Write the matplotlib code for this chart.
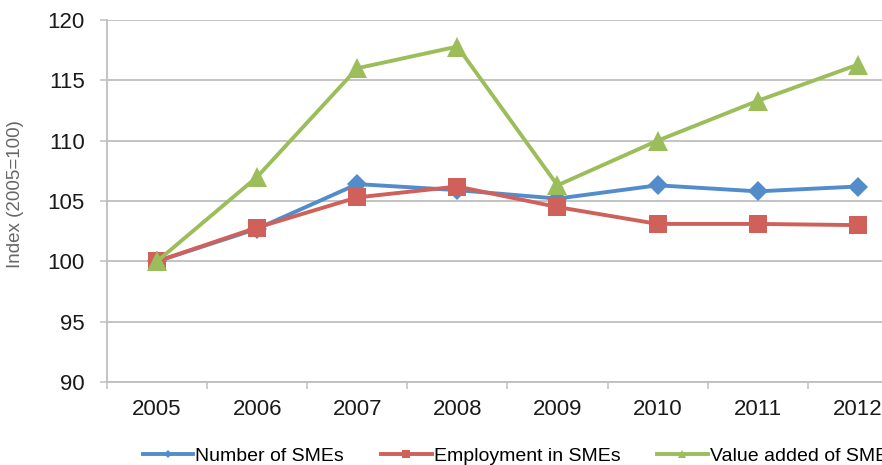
import matplotlib.pyplot as plt
from matplotlib.lines import Line2D

plt.rcParams["font.family"] = ["Liberation Sans", "DejaVu Sans"]

years = ["2005", "2006", "2007", "2008", "2009", "2010", "2011", "2012"]
number_of_smes = [100.0, 102.7, 106.4, 105.9, 105.2, 106.3, 105.8, 106.2]
employment_in_smes = [100.0, 102.8, 105.3, 106.2, 104.5, 103.1, 103.1, 103.0]
value_added_of_smes = [100.0, 107.0, 116.0, 117.8, 106.3, 110.0, 113.3, 116.3]

series = [
    ("Number of SMEs", number_of_smes, "#528CCB", "D", 10.5, 4),
    ("Employment in SMEs", employment_in_smes, "#D0605A", "s", 12.5, 6),
    ("Value added of SMEs", value_added_of_smes, "#9BBE5A", "^", 14, 6),
]

grid_color = "#BEBEBE"

fig = plt.figure(figsize=(8.82, 4.65), dpi=100)
# axes run a little past the right edge, like the original export
ax = fig.add_axes([0.1213, 0.1785, 0.908, 0.7785])

xs = list(range(len(years)))
handles = []
for label, values, color, marker, msize, leg_msize in series:
    ax.plot(xs, values, color=color, linewidth=2.8, marker=marker,
            markersize=msize, markeredgewidth=0, zorder=3)
    handles.append(Line2D([], [], color=color, linewidth=2.8, marker=marker,
                          markersize=leg_msize, markeredgewidth=0, label=label))

ax.set_xlim(-0.5, len(years) - 0.5)
ax.set_ylim(90, 120)
ax.set_yticks(range(90, 121, 5))
ax.set_xticks(xs)
ax.set_xticklabels(years)
ax.set_xticks([x - 0.5 for x in range(len(years) + 1)], minor=True)

ax.grid(axis="y", color=grid_color, linewidth=1.3, zorder=0)
ax.tick_params(axis="x", which="major", length=0, pad=12, labelsize=16,
               labelcolor="#1A1A1A")
ax.tick_params(axis="x", which="minor", length=5, width=1.1, color=grid_color)
ax.tick_params(axis="y", length=5, width=1.1, color=grid_color, pad=11,
               labelsize=16, labelcolor="#1A1A1A")

for side in ("top", "right"):
    ax.spines[side].set_visible(False)
for side in ("left", "bottom"):
    ax.spines[side].set_color(grid_color)
    ax.spines[side].set_linewidth(1.3)

ax.set_ylabel("Index (2005=100)", fontsize=13.5, color="#666666")
ax.yaxis.set_label_coords(-0.104, 0.52)

fig.legend(handles=handles, loc="center left", bbox_to_anchor=(0.162, 0.02),
           ncol=3, frameon=False, fontsize=14, handlelength=2.6,
           handletextpad=0.1, columnspacing=1.9, borderpad=0, borderaxespad=0)

fig.savefig("out.png", dpi=100)
